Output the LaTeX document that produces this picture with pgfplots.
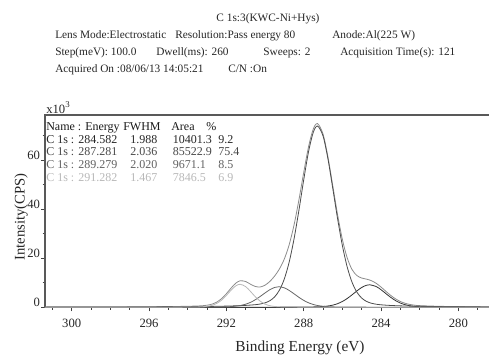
\documentclass[border=0pt]{standalone}
\usepackage{fontspec}
\setmainfont{Liberation Serif}
\usepackage{pgfplots}
\pgfplotsset{compat=1.18}

% C 1s fit components (binding energy in eV, intensity in 10^3 CPS)
\pgfplotstableread{
E Y
275 0.01
278.4 0.035
280 0.062
281 0.10
281.5 0.14
282 0.25
282.25 0.38
282.5 0.63
282.75 1.06
283 1.74
283.25 2.75
283.5 4.07
283.75 5.62
284 7.19
284.25 8.48
284.582 9.20
284.75 9.01
285 8.09
285.25 6.67
285.5 5.07
285.75 3.58
286 2.36
286.25 1.47
286.5 0.88
286.75 0.53
287 0.33
287.25 0.22
287.5 0.16
288 0.11
288.5 0.083
289 0.067
290 0.045
292 0.024
294 0.015
296 0.01
301.4 0.005
}\peakA
\pgfplotstableread{
E Y
275 0.08
278.4 0.15
280 0.21
281 0.28
282 0.40
282.5 0.48
283 0.59
283.5 0.75
284 1.02
284.25 1.26
284.5 1.67
284.75 2.41
285 3.78
285.25 6.21
285.5 10.27
285.75 16.52
286 25.29
286.25 36.37
286.5 48.81
286.75 60.82
287 69.98
287.281 74.0
287.5 71.52
287.75 63.45
288 51.92
288.25 39.39
288.5 27.84
288.75 18.45
289 11.60
289.25 7.05
289.5 4.27
289.75 2.68
290 1.81
290.25 1.34
290.5 1.07
291 0.78
291.5 0.61
292 0.49
292.5 0.41
293 0.34
294 0.25
295 0.19
296.5 0.13
298 0.10
301.4 0.06
}\peakB
\pgfplotstableread{
E Y
275 0.008
278.4 0.011
280 0.015
282 0.024
283 0.032
284 0.044
285 0.067
285.5 0.084
286 0.11
286.25 0.14
286.5 0.18
286.75 0.27
287 0.42
287.25 0.69
287.5 1.14
287.75 1.84
288 2.83
288.25 4.10
288.5 5.52
288.75 6.89
289 7.94
289.279 8.40
289.5 8.11
289.75 7.18
290 5.85
290.25 4.42
290.5 3.10
290.75 2.01
291 1.28
291.25 0.77
291.5 0.47
291.75 0.29
292 0.20
292.5 0.12
293 0.086
294 0.055
295 0.038
296.5 0.024
298 0.017
301.4 0.009
}\peakC
\pgfplotstableread{
E Y
275 0.004
280 0.006
282 0.009
284 0.014
286 0.027
287 0.04
287.5 0.051
288 0.067
288.5 0.092
289 0.14
289.25 0.20
289.5 0.34
289.75 0.65
290 1.31
290.25 2.50
290.5 4.29
290.75 6.47
291 8.44
291.282 9.40
291.5 8.81
291.75 7.03
292 4.83
292.25 2.90
292.5 1.56
292.75 0.78
293 0.40
293.25 0.23
293.5 0.15
294 0.096
295 0.053
296 0.033
298 0.017
301.4 0.007
}\peakD
% envelope: sum of the four components
\pgfplotstableread{
E Y
275 0.10
278.4 0.20
280 0.29
281 0.41
282 0.68
282.25 0.85
282.5 1.15
282.75 1.63
283 2.37
283.25 3.47
283.5 4.87
283.75 6.54
284 8.27
284.25 9.80
284.5 10.89
284.75 11.50
285 11.96
285.25 12.98
285.5 15.45
285.75 20.22
286 27.79
286.25 38.01
286.5 49.90
286.75 61.66
287 70.77
287.281 74.99
287.5 72.87
287.75 65.48
288 54.93
288.25 43.67
288.5 33.54
288.75 25.53
289 19.75
289.25 15.71
289.5 12.78
289.75 10.56
290 9.02
290.25 8.30
290.5 8.50
290.75 9.42
291 10.53
291.282 10.82
291.5 9.92
291.75 7.90
292 5.54
292.25 3.52
292.5 2.11
292.75 1.27
293 0.85
293.25 0.64
293.5 0.53
293.75 0.47
294 0.42
295 0.29
296.5 0.19
298 0.14
301.4 0.08
}\envelope

\begin{document}
\begin{tikzpicture}
\path[use as bounding box] (0pt,0pt) rectangle (366.75pt,266.25pt);
\clip (0pt,0pt) rectangle (366.75pt,266.25pt);
\begin{scope}[x=0.75pt,y=0.75pt]

% acquisition header
\begin{scope}[every node/.style={inner sep=0pt, font=\fontsize{8.5}{10}\selectfont, text=black!85}]
\node[anchor=base] at (268,334) {C 1s:3(KWC-Ni+Hys)};
\node[anchor=base west] at (55,317) {Lens Mode:Electrostatic};
\node[anchor=base west] at (175,317) {Resolution:Pass energy 80};
\node[anchor=base west] at (332,317) {Anode:Al(225 W)};
\node[anchor=base west] at (55,300) {Step(meV): 100.0};
\node[anchor=base west] at (156,300) {Dwell(ms): 260};
\node[anchor=base west] at (263,300) {Sweeps: 2};
\node[anchor=base west] at (340,300) {Acquisition Time(s): 121};
\node[anchor=base west] at (55,282.3) {Acquired On :08/06/13 14:05:21};
\node[anchor=base west] at (228,282.3) {C/N :On};
\end{scope}

% fit result table
\begin{scope}[every node/.style={inner sep=0pt, anchor=base west, font=\fontsize{9}{11}\selectfont}]
\node[text=black!90] at (46,225) {Name : Energy};
\node[text=black!90] at (123,225) {FWHM};
\node[text=black!90] at (171,225) {Area};
\node[text=black!90] at (206,225) {\%};
\node[text=black!85] at (46,212) {C 1s : 284.582};
\node[text=black!85] at (130,212) {1.988};
\node[text=black!85] at (172.7,212) {10401.3};
\node[text=black!85] at (218,212) {9.2};
\node[text=black!72] at (46,199.3) {C 1s : 287.281};
\node[text=black!72] at (130,199.3) {2.036};
\node[text=black!72] at (172.7,199.3) {85522.9};
\node[text=black!72] at (218,199.3) {75.4};
\node[text=black!62] at (46,187) {C 1s : 289.279};
\node[text=black!62] at (130,187) {2.020};
\node[text=black!62] at (172.7,187) {9671.1};
\node[text=black!62] at (218,187) {8.5};
\node[text=black!28] at (46,174) {C 1s : 291.282};
\node[text=black!28] at (130,174) {1.467};
\node[text=black!28] at (172.7,174) {7846.5};
\node[text=black!28] at (218,174) {6.9};
\end{scope}

% multiplier and axis titles
\node[anchor=base west, inner sep=0pt, font=\fontsize{9.5}{11}\selectfont, text=black!85] at (46,242) {x10\textsuperscript{3}};
\node[rotate=90, inner sep=0pt, font=\fontsize{11}{13}\selectfont, text=black!85] at (21,138) {Intensity(CPS)};
\node[anchor=base, inner sep=0pt, font=\fontsize{11.5}{13}\selectfont, text=black!85] at (300,3.5) {Binding Energy (eV)};
\end{scope}

\begin{axis}[
  at={(33.75pt,35.78pt)}, anchor=south west,
  scale only axis, width=382.5pt, height=144.2pt,
  x dir=reverse,
  xmin=275, xmax=301.38, ymin=0, ymax=78.5,
  xtick={280,284,288,292,296,300},
  minor xtick={276,277,...,301},
  ytick={0,20,40,60},
  minor ytick={10,30,50,70},
  tick align=outside, tick pos=left,
  major tick length=3pt, minor tick length=1.8pt,
  tick style={black!75, line width=0.6pt},
  axis line style={black!65, line width=0.8pt},
  ticklabel style={font=\fontsize{9.5}{11}\selectfont, text=black!85},
  /pgf/number format/assume math mode=true,
  /pgf/number format/1000 sep={},
  scaled ticks=false,
  yticklabel style={anchor=south east, inner sep=0.5pt},
  xticklabel style={yshift=-2pt},
]
\addplot[black!45, line width=0.6pt, smooth] table {\envelope};
\addplot[black!80, line width=0.6pt, smooth] table {\peakA};
\addplot[black!70, line width=0.6pt, smooth] table {\peakB};
\addplot[black!60, line width=0.6pt, smooth] table {\peakC};
\addplot[black!28, line width=0.6pt, smooth] table {\peakD};
\end{axis}
\end{tikzpicture}
\end{document}
